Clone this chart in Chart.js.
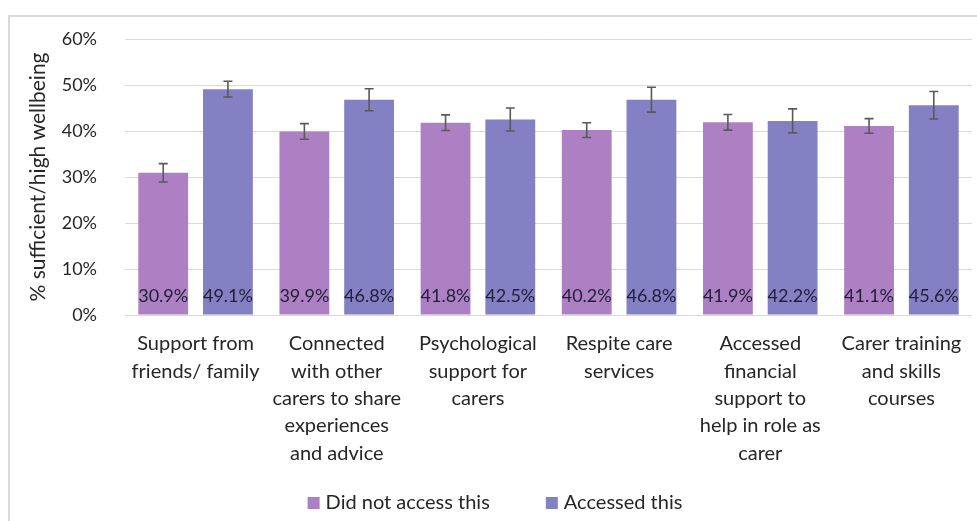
<!DOCTYPE html>
<html>
<head>
<meta charset="utf-8">
<script src="https://cdn.jsdelivr.net/npm/chart.js@4/dist/chart.umd.min.js"></script>
<style>
  html, body { margin: 0; padding: 0; background: #ffffff; }
  #wrap { position: relative; width: 977px; height: 521px; }
  canvas { display: block; }
</style>
</head>
<body>
<div id="wrap"><canvas id="c" width="977" height="521"></canvas></div>
<script>
// ---- data ----
const categories = [
  ["Support from", "friends/ family"],
  ["Connected", "with other", "carers to share", "experiences", "and advice"],
  ["Psychological", "support for", "carers"],
  ["Respite care", "services"],
  ["Accessed", "financial", "support to", "help in role as", "carer"],
  ["Carer training", "and skills", "courses"]
];
const seriesNames = ["Did not access this", "Accessed this"];
const didNotAccess = [30.9, 39.9, 41.8, 40.2, 41.9, 41.1];
const accessed = [49.1, 46.8, 42.5, 46.8, 42.2, 45.6];
const didNotAccessErr = [2.0, 1.7, 1.7, 1.6, 1.7, 1.6];
const accessedErr = [1.7, 2.4, 2.5, 2.7, 2.6, 3.0];
const yTicks = [0, 10, 20, 30, 40, 50, 60];
const yTitle = "% sufficient/high wellbeing";

const FONT = "Lato, 'Open Sans', sans-serif";
const colors = ["#ad80c4", "#8480c4"];
const errors = [didNotAccessErr, accessedErr];
const TEXT = '#262626';

const frame = {
  id: 'frame',
  beforeDraw(chart) {
    const ctx = chart.ctx;
    ctx.save();
    ctx.fillStyle = '#ffffff';
    ctx.fillRect(0, 0, chart.width, chart.height);
    ctx.strokeStyle = '#dadada';
    ctx.lineWidth = 2;
    ctx.beginPath();
    ctx.moveTo(9, chart.height);
    ctx.lineTo(9, 16);
    ctx.lineTo(chart.width, 16);
    ctx.stroke();
    ctx.restore();
  }
};

const errorBars = {
  id: 'errorBars',
  afterDatasetsDraw(chart) {
    const ctx = chart.ctx;
    const y = chart.scales.y;
    ctx.save();
    ctx.strokeStyle = '#595959';
    ctx.lineWidth = 1.6;
    chart.data.datasets.forEach((ds, di) => {
      const meta = chart.getDatasetMeta(di);
      meta.data.forEach((bar, i) => {
        const v = ds.data[i], e = errors[di][i];
        const top = y.getPixelForValue(v + e);
        const bot = y.getPixelForValue(v - e);
        const x = bar.x;
        ctx.beginPath();
        ctx.moveTo(x, top); ctx.lineTo(x, bot);
        ctx.moveTo(x - 4.5, top); ctx.lineTo(x + 4.5, top);
        ctx.moveTo(x - 4.5, bot); ctx.lineTo(x + 4.5, bot);
        ctx.stroke();
      });
    });
    ctx.restore();
  }
};

const valueLabels = {
  id: 'valueLabels',
  afterDatasetsDraw(chart) {
    const ctx = chart.ctx;
    const y = chart.scales.y;
    const base = y.getPixelForValue(0);
    ctx.save();
    ctx.fillStyle = '#1f1f36';
    ctx.font = "18px " + FONT;
    ctx.textAlign = 'center';
    ctx.textBaseline = 'middle';
    chart.data.datasets.forEach((ds, di) => {
      const meta = chart.getDatasetMeta(di);
      meta.data.forEach((bar, i) => {
        ctx.fillText(ds.data[i].toFixed(1) + '%', bar.x, base - 19);
      });
    });
    ctx.restore();
  }
};

// legend drawn from the datasets (names + colours)
const bottomLegend = {
  id: 'bottomLegend',
  afterDraw(chart) {
    const ctx = chart.ctx;
    const ds = chart.data.datasets;
    ctx.save();
    ctx.font = "20px " + FONT;
    ctx.textBaseline = 'middle';
    const box = 12, gap = 6, spacing = 56;
    const widths = ds.map(d => box + gap + ctx.measureText(d.label).width);
    const total = widths.reduce((a, b) => a + b, 0) + spacing * (ds.length - 1);
    let x = 495 - total / 2;
    const cy = 503;
    ds.forEach((d, i) => {
      ctx.fillStyle = d.backgroundColor;
      ctx.fillRect(x, cy - box / 2, box, box);
      ctx.fillStyle = TEXT;
      ctx.fillText(d.label, x + box + gap, cy);
      x += widths[i] + spacing;
    });
    ctx.restore();
  }
};

new Chart(document.getElementById('c'), {
  type: 'bar',
  data: {
    labels: categories,
    datasets: [
      { label: seriesNames[0], data: didNotAccess, backgroundColor: colors[0], borderWidth: 0,
        categoryPercentage: 0.917, barPercentage: 0.77 },
      { label: seriesNames[1], data: accessed, backgroundColor: colors[1], borderWidth: 0,
        categoryPercentage: 0.917, barPercentage: 0.77 }
    ]
  },
  options: {
    responsive: false,
    animation: false,
    devicePixelRatio: 1,
    layout: { padding: { left: 22, right: 5, top: 39, bottom: 0 } },
    plugins: {
      tooltip: { enabled: false },
      legend: { display: false }
    },
    scales: {
      x: {
        grid: { display: false, drawTicks: false },
        border: { display: false },
        ticks: {
          autoSkip: false, maxRotation: 0, padding: 15,
          color: TEXT,
          font: { family: FONT, size: 20, lineHeight: 1.37 }
        },
        afterFit(scale) { scale.height = 206; }
      },
      y: {
        min: 0, max: 60,
        afterBuildTicks(scale) { scale.ticks = yTicks.map(v => ({ value: v })); },
        grid: { color: '#d9d9d9', lineWidth: 1, drawTicks: false },
        border: { display: false },
        ticks: {
          padding: 28,
          color: TEXT,
          font: { family: FONT, size: 18 },
          callback: v => v + '%'
        },
        title: {
          display: true, text: yTitle, color: TEXT, padding: 4,
          font: { family: FONT, size: 21 }
        },
        afterFit(scale) { scale.width = 103; }
      }
    }
  },
  plugins: [frame, errorBars, valueLabels, bottomLegend]
});
</script>
</body>
</html>
